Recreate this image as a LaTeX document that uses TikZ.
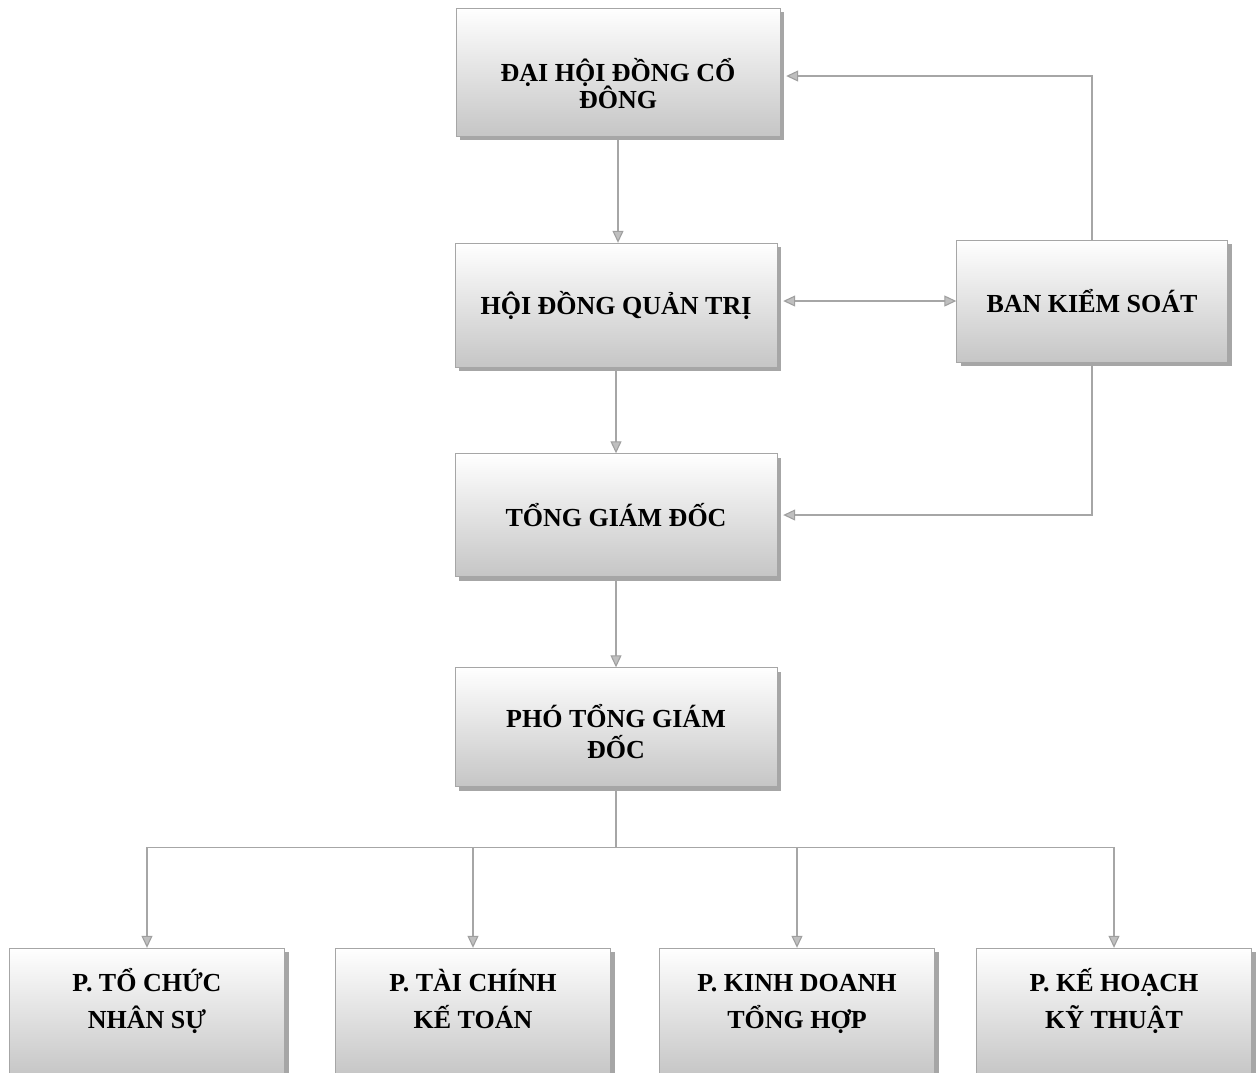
\documentclass[tikz,border=0pt]{standalone}
\usepackage{fontspec}
\setmainfont{Liberation Serif}
\usetikzlibrary{arrows.meta,shadows}
% two lines of box text: raise, row stretch, first line, second line
\newcommand{\twolines}[4]{\raisebox{#1}[0pt][0pt]{\renewcommand{\arraystretch}{#2}%
  \begin{tabular}{@{}c@{}}\smash{#3}\\\smash{#4}\end{tabular}}}

\begin{document}
\begin{tikzpicture}[x=1pt, y=-1pt,
  every node/.style = {shape=rectangle, draw=gray!70, align=center,
    top color=white, bottom color=gray!45,
    font=\fontsize{26}{28}\selectfont\bfseries,
    drop shadow={shadow xshift=4pt, shadow yshift=-4pt, fill=gray!70, opacity=1}},
  mainbox/.style = {minimum width=322pt, minimum height=124pt},
  deptbox/.style = {minimum width=275pt, minimum height=128pt},
  link/.style = {draw=gray!70, line width=1.1pt},
  tip/.tip = {Triangle[width=11pt, length=12pt, fill=gray!50, color=gray!75]},
  conn/.style = {link, -tip},
  both/.style = {link, tip-tip}]
  \useasboundingbox (0,0) rectangle (1256,1072);
  % top of the chart
  \node [mainbox, minimum width=324pt, minimum height=128pt] (dhdcd) at (618,72)
    {\twolines{-24pt}{0.964}{ĐẠI HỘI ĐỒNG CỔ}{ĐÔNG}};
  \node [mainbox] (hdqt) at (616,305) {HỘI ĐỒNG QUẢN TRỊ};
  \node [mainbox, minimum width=271pt, minimum height=122pt] (bks) at (1092,301) {BAN KIỂM SOÁT};
  \node [mainbox, minimum height=123pt] (tgd) at (616,515) {TỔNG GIÁM ĐỐC};
  \node [mainbox, minimum height=119pt] (ptgd) at (616,727)
    {\twolines{-16pt}{1.107}{PHÓ TỔNG GIÁM}{ĐỐC}};
  % departments
  \node [deptbox] (ptcns) at (147,1012) {\twolines{3pt}{1.321}{P. TỔ CHỨC}{NHÂN SỰ}};
  \node [deptbox] (ptckt) at (473,1012) {\twolines{3pt}{1.321}{P. TÀI CHÍNH}{KẾ TOÁN}};
  \node [deptbox] (pkdth) at (797,1012) {\twolines{3pt}{1.321}{P. KINH DOANH}{TỔNG HỢP}};
  \node [deptbox] (pkhkt) at (1114,1012) {\twolines{3pt}{1.321}{P. KẾ HOẠCH}{KỸ THUẬT}};

  \draw [conn] (dhdcd.south) -- (dhdcd.south |- hdqt.north);
  \draw [conn] (hdqt.south) -- (tgd.north);
  \draw [conn] (tgd.south) -- (ptgd.north);
  \draw [both] ([xshift=6pt]hdqt.east |- bks.west) -- (bks.west);
  \draw [conn] (bks.north) |- ([xshift=6pt, yshift=-4pt]dhdcd.east);
  \draw [conn] (bks.south) |- ([xshift=6pt]tgd.east);
  \draw [link] (ptgd.south) -- ++(0,61) coordinate (split);
  \foreach \dept in {ptcns,ptckt,pkdth,pkhkt}
    \draw [conn] (split) -| (\dept.north);
\end{tikzpicture}
\end{document}
